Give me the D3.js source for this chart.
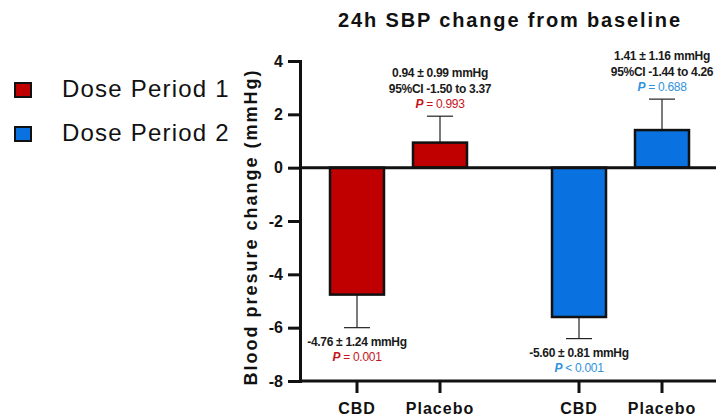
<!DOCTYPE html>
<meta charset="utf-8">
<style>
body { margin: 0; background: #fff; }
svg { font-family: Arial, "Liberation Sans", sans-serif; }
</style>
<svg width="720" height="417"></svg>
<script src="https://d3js.org/d3.v7.min.js"></script>
<script>

var periods = ["Dose Period 1", "Dose Period 2"],
    treatments = ["CBD", "Placebo"],
    means = [[-4.76, 0.94], [-5.60, 1.41]],
    sems = [[1.24, 0.99], [0.81, 1.16]],
    ciText = [[null, "95%CI -1.50 to 3.37"], [null, "95%CI -1.44 to 4.26"]],
    pText = [["= 0.001", "= 0.993"], ["< 0.001", "= 0.688"]],
    yTicks = [4, 2, 0, -2, -4, -6, -8];

var fills = ["#c00000", "#0a72e0"],
    pColors = ["#c3161c", "#2f93dc"];

var svg = d3.select("svg"),
    fmt = function(v) { return v.toFixed(2); };

var y = d3.scaleLinear().domain([-8, 4]).range([381, 61]);
var x0 = d3.scalePoint().domain(periods).range([398.5, 620.5]);
var x1 = d3.scalePoint().domain(treatments).range([-41.5, 41.5]);
var barW = 54, capW = 26;

svg.append("text")
    .attr("x", 510).attr("y", 27)
    .attr("text-anchor", "middle")
    .attr("font-size", 20).attr("font-weight", "bold")
    .attr("letter-spacing", 1.85)
    .attr("fill", "#111")
    .text("24h SBP change from baseline");

// legend
var leg = svg.selectAll(".leg").data(periods).enter().append("g")
    .attr("transform", function(d, i) { return "translate(15," + (83 + i * 44) + ")"; });
leg.append("rect").attr("width", 16).attr("height", 14)
    .attr("fill", function(d, i) { return fills[i]; })
    .attr("stroke", "#111").attr("stroke-width", 2);
leg.append("text").attr("x", 47).attr("y", 14)
    .attr("font-size", 24).attr("fill", "#111")
    .attr("letter-spacing", 1.2)
    .text(function(d) { return d; });

// bars
var items = [];
periods.forEach(function(p, i) {
  treatments.forEach(function(t, j) {
    items.push({p: p, t: t, i: i, j: j, v: means[i][j], e: sems[i][j]});
  });
});
function cx(d) { return x0(d.p) + x1(d.t); }
function tipY(d) { return y(d.v + (d.v < 0 ? -d.e : d.e)); }

var g = svg.selectAll(".bar").data(items).enter().append("g");

g.append("line")
    .attr("x1", cx).attr("x2", cx)
    .attr("y1", function(d) { return y(d.v); })
    .attr("y2", tipY)
    .attr("stroke", "#222").attr("stroke-width", 1.2);
g.append("line")
    .attr("x1", function(d) { return cx(d) - capW / 2; })
    .attr("x2", function(d) { return cx(d) + capW / 2; })
    .attr("y1", tipY).attr("y2", tipY)
    .attr("stroke", "#222").attr("stroke-width", 1.2);

g.append("rect")
    .attr("x", function(d) { return cx(d) - barW / 2; })
    .attr("width", barW)
    .attr("y", function(d) { return y(Math.max(0, d.v)); })
    .attr("height", function(d) { return Math.abs(y(d.v) - y(0)); })
    .attr("fill", function(d) { return fills[d.i]; })
    .attr("stroke", "#111").attr("stroke-width", 2.5);

// annotations
g.each(function(d) {
  var tip = tipY(d);
  var lines = [fmt(d.v) + " \u00b1 " + fmt(d.e) + " mmHg"];
  if (ciText[d.i][d.j]) lines.push(ciText[d.i][d.j]);
  lines.push("P");
  var base = d.v < 0 ? tip + 18 : tip - 8 - (lines.length - 1) * 15.5;
  var sel = d3.select(this);
  lines.forEach(function(s, k) {
    var t = sel.append("text")
        .attr("x", cx(d)).attr("y", base + k * 15.5)
        .attr("text-anchor", "middle")
        .attr("font-size", 12).attr("font-weight", "bold")
        .attr("letter-spacing", -0.3);
    if (s === "P") {
      t.attr("fill", pColors[d.i]);
      t.append("tspan").attr("font-style", "italic").text("P");
      t.append("tspan").attr("font-weight", "normal").text(" " + pText[d.i][d.j]);
    } else {
      t.attr("fill", "#1a1a1a").text(s);
    }
  });
});

// zero line
svg.append("line")
    .attr("x1", 300).attr("x2", 716)
    .attr("y1", y(0)).attr("y2", y(0))
    .attr("stroke", "#111").attr("stroke-width", 3);

// y axis
var yAxis = svg.append("g")
    .attr("transform", "translate(300,0)")
    .call(d3.axisLeft(y).tickValues(yTicks).tickSize(12).tickPadding(5)
      .tickFormat(function(d) { return String(d); }));
yAxis.select(".domain").attr("stroke", "#111").attr("stroke-width", 3);
yAxis.selectAll(".tick line").attr("stroke", "#111").attr("stroke-width", 3);
yAxis.selectAll(".tick text").attr("font-size", 16).attr("font-weight", "bold").attr("fill", "#111")
    .attr("font-family", "Arial, 'Liberation Sans', sans-serif");

// x axis
var xAxis = svg.append("g").attr("transform", "translate(0," + y(-8) + ")");
xAxis.append("line").attr("x1", 299).attr("x2", 716)
    .attr("stroke", "#111").attr("stroke-width", 3);
var xt = xAxis.selectAll(".xt").data(items).enter().append("g")
    .attr("transform", function(d) { return "translate(" + cx(d) + ",0)"; });
xt.append("line").attr("y2", 12).attr("stroke", "#111").attr("stroke-width", 3);
xt.append("text").attr("y", 33).attr("text-anchor", "middle")
    .attr("font-size", 16).attr("font-weight", "bold").attr("fill", "#111")
    .attr("letter-spacing", 1)
    .text(function(d) { return d.t; });

svg.append("text")
    .attr("transform", "translate(257,227) rotate(-90)")
    .attr("text-anchor", "middle")
    .attr("font-size", 18).attr("font-weight", "bold")
    .attr("letter-spacing", 2)
    .attr("fill", "#111")
    .text("Blood presure change (mmHg)");

</script>
